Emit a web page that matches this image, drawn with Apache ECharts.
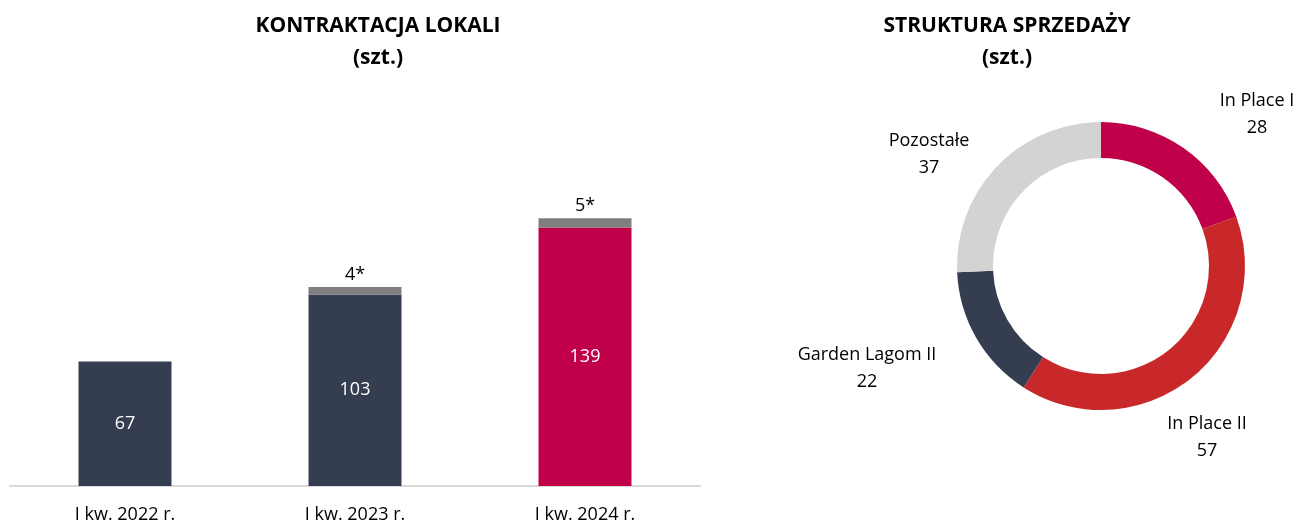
<!DOCTYPE html>
<html>
<head>
<meta charset="utf-8">
<script src="https://cdn.jsdelivr.net/npm/echarts@6/dist/echarts.min.js"></script>
<style>
    html, body { margin: 0; padding: 0; background: #fff; }
    #main { width: 1311px; height: 524px; }
</style>
</head>
<body>
<div id="main"></div>
<script>
// dane - kontraktacja lokali
var quarters = ['I kw. 2022 r.', 'I kw. 2023 r.', 'I kw. 2024 r.'];
var contracted = [67, 103, 139];
var extra = [null, 4, 5];

// dane - struktura sprzedazy
var projects = ['In Place I', 'In Place II', 'Garden Lagom II', 'Pozostałe'];
var sold = [28, 57, 22, 37];

var FONT = '"Open Sans", "Noto Sans", sans-serif';
var dark = '#343e50';
var red = '#c00048';
var pieColors = ['#c00048', '#c8282a', '#343e50', '#d3d3d3'];
var center = [1101, 266];
// przesuniecie etykiet od srodka pierscienia (dx, dy)
var labelShift = [[156, -152], [106, 171], [-234, 102], [-172, -112]];

var chart = echarts.init(document.getElementById('main'));

var titleStyle = { fontFamily: FONT, fontSize: 21, fontWeight: 'bold', color: '#000', lineHeight: 32 };

var option = {
    backgroundColor: '#fff',
    animation: false,
    textStyle: { fontFamily: FONT },
    title: [{
        text: 'KONTRAKTACJA LOKALI\n(szt.)',
        left: 378,
        top: 10,
        padding: 0,
        textAlign: 'center',
        textStyle: titleStyle
    }, {
        text: 'STRUKTURA SPRZEDAŻY\n(szt.)',
        left: 1007,
        top: 10,
        padding: 0,
        textAlign: 'center',
        textStyle: titleStyle
    }],
    grid: {
        left: 10,
        width: 690,
        top: 114,
        height: 376
    },
    xAxis: {
        type: 'category',
        data: quarters,
        axisLine: { lineStyle: { color: '#d9d9d9', width: 2 } },
        axisTick: { show: false },
        axisLabel: { color: '#000', fontSize: 18, margin: 20, fontFamily: FONT }
    },
    yAxis: {
        type: 'value',
        min: 0,
        max: 200,
        show: false,
        splitLine: { show: false }
    },
    series: [{
        name: 'kontraktacja',
        type: 'bar',
        stack: 'a',
        barWidth: 93,
        data: contracted.map(function(v, i) {
            return { value: v, itemStyle: { color: i == 2 ? red : dark } };
        }),
        label: {
            show: true,
            position: 'inside',
            color: '#fff',
            fontSize: 18,
            fontFamily: FONT
        }
    }, {
        name: 'dodatkowe',
        type: 'bar',
        stack: 'a',
        barWidth: 93,
        itemStyle: { color: '#7f7f7f' },
        data: extra,
        label: {
            show: true,
            position: 'top',
            distance: 3,
            color: '#000',
            fontSize: 18,
            fontFamily: FONT,
            formatter: '{c}*'
        }
    }, {
        name: 'sprzedaz',
        type: 'pie',
        center: center,
        radius: [108, 144],
        startAngle: 90,
        clockwise: true,
        data: projects.map(function(n, i) {
            return { name: n, value: sold[i], itemStyle: { color: pieColors[i] } };
        }),
        label: {
            show: true,
            position: 'outside',
            color: '#000',
            fontSize: 18,
            lineHeight: 27,
            fontFamily: FONT,
            overflow: 'none',
            formatter: '{b}\n{c}'
        },
        labelLine: { show: false },
        labelLayout: function(p) {
            var s = labelShift[p.dataIndex];
            return {
                x: center[0] + s[0],
                y: center[1] + s[1],
                width: 200,
                align: 'center',
                verticalAlign: 'middle'
            };
        }
    }]
};

chart.setOption(option);
</script>
</body>
</html>
